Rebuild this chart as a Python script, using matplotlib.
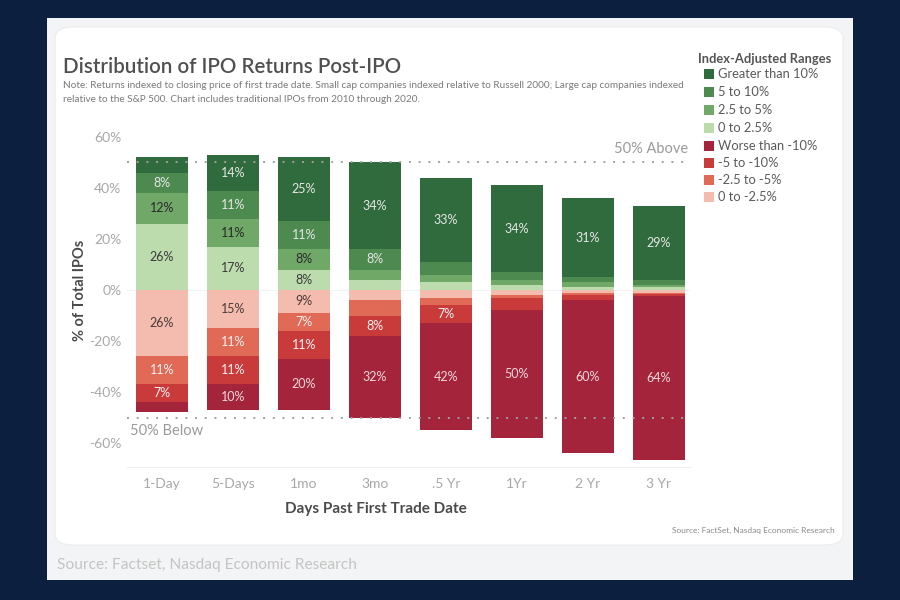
import matplotlib
matplotlib.use('Agg')
import matplotlib.pyplot as plt
from matplotlib.patches import Rectangle, FancyBboxPatch
import numpy as np

plt.rcParams['font.family'] = ['Lato', 'DejaVu Sans']

# data: % of IPOs in each index-adjusted return band
periods = ['1-Day', '5-Days', '1mo', '3mo', '.5 Yr', '1Yr', '2 Yr', '3 Yr']
gt_10 = [6, 14, 25, 34, 33, 34, 31, 29]
p5_10 = [8, 11, 11, 8, 5, 3, 2, 2]
p25_5 = [12, 11, 8, 4, 3, 2, 2, 1]
p0_25 = [26, 17, 8, 4, 3, 2, 1, 1]
worse_10 = [4, 10, 20, 32, 42, 50, 60, 64]
n5_10 = [7, 11, 11, 8, 7, 5, 2, 1]
n25_5 = [11, 11, 7, 6, 3, 1, 1, 0.5]
n0_25 = [26, 15, 9, 4, 3, 2, 1, 1]

legend_names = ['Greater than 10%', '5 to 10%', '2.5 to 5%', '0 to 2.5%',
                'Worse than -10%', '-5 to -10%', '-2.5 to -5%', '0 to -2.5%']
colors = ['#2f6b3c', '#4c8a4f', '#70a868', '#bcdcae',
          '#a3243b', '#c93b3b', '#e06a55', '#f3bcae']

W, H = 900, 600


def fx(px):
    return px / W


def fy(py):
    return 1 - py / H


fig = plt.figure(figsize=(9, 6), dpi=100, facecolor='#0c1f3f')

# light panel + white card (behind the axes)
fig.patches.append(Rectangle((fx(47), fy(580)), fx(806), 562 / H,
                             transform=fig.transFigure, facecolor='#f3f4f5',
                             edgecolor='none', zorder=-3))
fig.patches.append(FancyBboxPatch((fx(55), fy(545)), fx(788), 518 / H,
                                  boxstyle='round,pad=0,rounding_size=0.02',
                                  transform=fig.transFigure, facecolor='white',
                                  edgecolor='#ececec', lw=0.8, zorder=-2))

ax = fig.add_axes([fx(127), fy(467), fx(690 - 127), (467 - 125) / H])
ax.set_facecolor('none')
ax.set_zorder(1)

x = np.arange(len(periods))
bw = 0.73

# positive stack (closest to zero first)
pos_series = [(p0_25, colors[3], '#3a3a3a'), (p25_5, colors[2], '#2a2a2a'),
              (p5_10, colors[1], '#e6e6e6'), (gt_10, colors[0], '#e6e6e6')]
neg_series = [(n0_25, colors[7], '#4a3a3a'), (n25_5, colors[6], '#f2f2f2'),
              (n5_10, colors[5], '#f2f2f2'), (worse_10, colors[4], '#f0d8dc')]

bottom = np.zeros(len(periods))
for vals, c, tc in pos_series:
    v = np.array(vals, dtype=float)
    ax.bar(x, v, bw, bottom=bottom, color=c, zorder=2)
    for i in range(len(x)):
        if v[i] >= 7:
            ax.text(x[i], bottom[i] + v[i] / 2, f'{v[i]:.0f}%', ha='center',
                    va='center', fontsize=9, color=tc, zorder=3)
    bottom += v

bottom = np.zeros(len(periods))
for vals, c, tc in neg_series:
    v = np.array(vals, dtype=float)
    ax.bar(x, -v, bw, bottom=-bottom, color=c, zorder=2)
    for i in range(len(x)):
        if v[i] >= 7:
            ax.text(x[i], -bottom[i] - v[i] / 2, f'{v[i]:.0f}%', ha='center',
                    va='center', fontsize=9, color=tc, zorder=3)
    bottom += v

# 50% reference lines
ax.axhline(50, color='#a0a0a0', ls=(0, (1, 4)), lw=1.4, zorder=4)
ax.axhline(-50, color='#a0a0a0', ls=(0, (1, 4)), lw=1.4, zorder=4)
ax.axhline(0, color='#f2f2f2', lw=0.8, zorder=1)
ax.text(7.42, 52.5, '50% Above', ha='right', va='bottom', fontsize=10.5,
        color='#9a9a9a')
ax.text(-0.45, -52.5, '50% Below', ha='left', va='top', fontsize=10.5,
        color='#9a9a9a')

ax.set_xlim(-0.49, 7.44)
ax.set_ylim(-69.4, 64.7)
ax.set_yticks([60, 40, 20, 0, -20, -40, -60])
ax.set_yticklabels([f'{v}%' for v in [60, 40, 20, 0, -20, -40, -60]])
ax.set_xticks(x)
ax.set_xticklabels(periods)
ax.tick_params(axis='both', length=0, labelsize=10, labelcolor='#a8a8a8')
ax.tick_params(axis='y', pad=4)
ax.tick_params(axis='x', pad=8)
for s in ['top', 'right', 'left']:
    ax.spines[s].set_visible(False)
ax.spines['bottom'].set_color('#f0f0f0')

fig.text(fx(80), fy(290), '% of Total IPOs', rotation=90, ha='center',
         va='center', fontsize=10.5, fontweight='bold', color='#4a4a4a')
fig.text(fx(376), fy(509), 'Days Past First Trade Date', ha='center',
         va='center', fontsize=11, fontweight='bold', color='#4a4a4a')

# titles
fig.text(fx(63), fy(67), 'Distribution of IPO Returns Post-IPO', ha='left',
         va='center', fontsize=14.8, fontweight='semibold', color='#505050')
fig.text(fx(63), fy(86), 'Note: Returns indexed to closing price of first trade date. '
         'Small cap companies indexed relative to Russell 2000; Large cap companies indexed',
         ha='left', va='center', fontsize=7.2, color='#7a7a7a')
fig.text(fx(63), fy(99), 'relative to the S&P 500. Chart includes traditional IPOs '
         'from 2010 through 2020.', ha='left', va='center', fontsize=7.2,
         color='#7a7a7a')

# legend
fig.text(fx(698), fy(59), 'Index-Adjusted Ranges', ha='left', va='center',
         fontsize=9.3, fontweight='bold', color='#555555')
leg_y = [74, 92, 110, 128, 146, 163, 180, 197]
for name, c, yy in zip(legend_names, colors, leg_y):
    fig.patches.append(Rectangle((fx(704), fy(yy + 5)), fx(10), 10 / H,
                                 transform=fig.transFigure, facecolor=c,
                                 edgecolor='none', zorder=1))
    fig.text(fx(718), fy(yy), name, ha='left', va='center', fontsize=9.3,
             color='#5a5a5a')

fig.text(fx(835), fy(530), 'Source: FactSet, Nasdaq Economic Research',
         ha='right', va='center', fontsize=6, color='#8a8a8a')
fig.text(fx(57), fy(565), 'Source: Factset, Nasdaq Economic Research',
         ha='left', va='center', fontsize=11.2, color='#c4c4c4')

fig.savefig('out.png', dpi=100, facecolor=fig.get_facecolor())
